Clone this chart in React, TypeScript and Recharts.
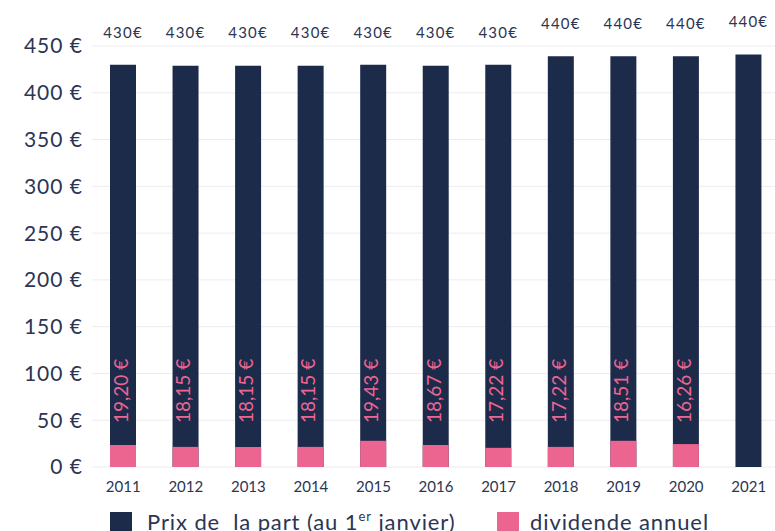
import React from "react";
import {
  BarChart,
  Bar,
  XAxis,
  YAxis,
  CartesianGrid,
  LabelList
} from "recharts";

const annees = ["2011", "2012", "2013", "2014", "2015", "2016", "2017", "2018", "2019", "2020", "2021"];
const prixPart = [430, 429, 429, 429, 430, 429, 430, 439, 439, 439, 441];
const etiquettesPrix = ["430€", "430€", "430€", "430€", "430€", "430€", "430€", "440€", "440€", "440€", "440€"];
// montants annoncés sur les barres
const dividende = [19.2, 18.15, 18.15, 18.15, 19.43, 18.67, 17.22, 17.22, 18.51, 16.26, null];
// hauteur des barres roses telle que dessinée
const barreDividende = [23.5, 21.5, 21.5, 21.5, 28, 23.5, 20.5, 21.5, 28, 24.5, null];
const graduations = [0, 50, 100, 150, 200, 250, 300, 350, 400, 450];

const NAVY = "#1d2b4b";
const PINK = "#ec6591";
const TEXT = "#2c3553";
const FONT = "Lato, sans-serif";

const data = annees.map((annee, i) => ({
  annee,
  prix: prixPart[i],
  prixLabel: etiquettesPrix[i],
  dividende: dividende[i],
  barre: barreDividende[i]
}));

const PrixLabel = (props: any) => {
  const { x, y, width, value } = props;
  return (
    <text
      x={x + width / 2}
      y={y - 31}
      textAnchor="middle"
      dominantBaseline="middle"
      fill={TEXT}
      fontSize={15}
      letterSpacing={1.2}
      fontFamily={FONT}
    >
      {value}
    </text>
  );
};

const DividendeLabel = (props: any) => {
  const { x, y, width, height, index } = props;
  const v = dividende[index];
  if (v == null) return null;
  const cx = x + width / 2;
  const base = y + height - 44;
  return (
    <text
      x={cx}
      y={base}
      transform={`rotate(-90, ${cx}, ${base})`}
      textAnchor="start"
      dominantBaseline="middle"
      fill={PINK}
      fontSize={19}
      fontFamily={FONT}
    >
      {v.toFixed(2).replace(".", ",") + " €"}
    </text>
  );
};

const legendText: React.CSSProperties = {
  position: "absolute",
  top: 509,
  fontSize: 22,
  lineHeight: "26px",
  letterSpacing: 0.9,
  color: TEXT,
  whiteSpace: "pre"
};

const App: React.FC = () => {
  return (
    <div
      style={{
        position: "absolute",
        left: 0,
        top: 0,
        width: 775,
        height: 531,
        overflow: "hidden",
        background: "#fff",
        fontFamily: FONT
      }}
    >
      <BarChart
        width={790}
        height={531}
        data={data}
        margin={{ top: 46, right: 10, bottom: 34, left: 0 }}
      >
        <CartesianGrid vertical={false} stroke="#ececf0" />
        <XAxis xAxisId="div" dataKey="annee" hide height={0} />
        <XAxis
          xAxisId="prix"
          dataKey="annee"
          axisLine={false}
          tickLine={false}
          tickMargin={8}
          height={30}
          tick={{ fill: TEXT, fontSize: 15, fontFamily: FONT }}
        />
        <YAxis
          width={92}
          domain={[0, 450]}
          ticks={graduations}
          axisLine={false}
          tickLine={false}
          tickMargin={3}
          tickFormatter={(v: number) => `${v} €`}
          tick={{ fill: TEXT, fontSize: 21, letterSpacing: 1, fontFamily: FONT }}
        />
        <Bar xAxisId="prix" dataKey="prix" fill={NAVY} barSize={26} isAnimationActive={false}>
          <LabelList dataKey="prixLabel" content={PrixLabel} />
        </Bar>
        <Bar xAxisId="div" dataKey="barre" fill={PINK} barSize={26} isAnimationActive={false}>
          <LabelList dataKey="barre" content={DividendeLabel} />
        </Bar>
      </BarChart>
      <div style={{ position: "absolute", left: 110, top: 512, width: 22, height: 22, background: NAVY }} />
      <div style={{ ...legendText, left: 147 }}>
        {"Prix de  la part (au 1"}
        <span style={{ fontSize: 13, position: "relative", top: -9, lineHeight: 0 }}>er</span>
        {" janvier)"}
      </div>
      <div style={{ position: "absolute", left: 497, top: 512, width: 22, height: 22, background: PINK }} />
      <div style={{ ...legendText, left: 530 }}>dividende annuel</div>
    </div>
  );
};

export default App;
